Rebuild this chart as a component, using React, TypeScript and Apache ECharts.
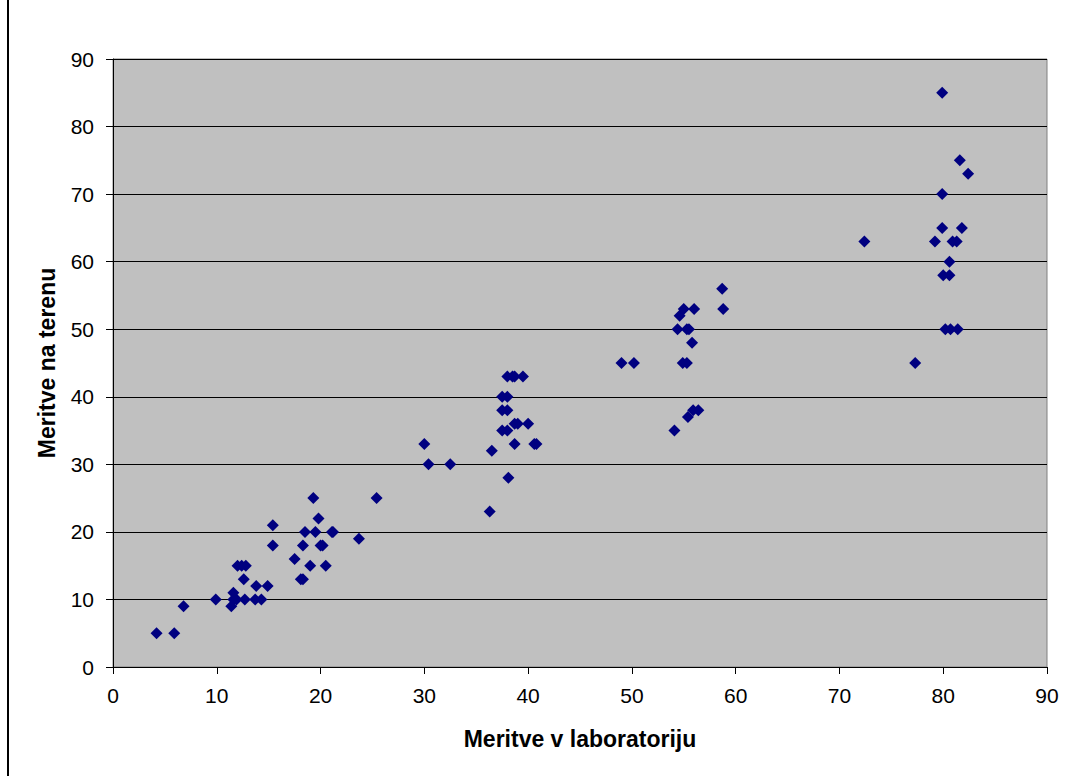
import React, { useEffect, useRef } from "react";
import * as echarts from "echarts";

const labValues = [
  4.2, 5.9, 6.8, 9.9, 11.4, 11.6, 11.6, 11.9, 12.7, 13.7, 14.3, 13.8, 14.9, 12.6, 12.0, 12.4, 12.8, 15.4, 15.4, 17.5,
  18.1, 18.3, 18.3, 18.5, 19.0, 19.3, 19.8, 19.5, 20.0, 20.2, 20.5, 21.1, 21.2, 23.7, 25.4,
  30.0, 30.4, 32.5, 36.3, 36.5, 37.5, 38.0, 38.1, 37.5, 38.0, 37.5, 38.0, 38.0, 38.5, 38.7, 39.5, 38.7, 38.7, 39.0, 40.0, 40.6, 40.8,
  49.0, 50.2, 54.1, 55.4, 55.9, 56.4, 54.9, 55.3, 55.8, 54.4, 55.3, 55.5, 54.6, 55.0, 56.0, 58.7, 58.8,
  72.4, 77.3, 79.2, 79.9, 79.9, 79.9, 80.0, 80.6, 80.6, 80.9, 81.3, 81.6, 81.8, 82.4, 80.2, 80.7, 81.4,
];
const fieldValues = [
  5, 5, 9, 10, 9, 11, 10, 10, 10, 10, 10, 12, 12, 13, 15, 15, 15, 18, 21, 16,
  13, 13, 18, 20, 15, 25, 22, 20, 18, 18, 15, 20, 20, 19, 25,
  33, 30, 30, 23, 32, 35, 35, 28, 38, 38, 40, 40, 43, 43, 43, 43, 33, 36, 36, 36, 33, 33,
  45, 45, 35, 37, 38, 38, 45, 45, 48, 50, 50, 50, 52, 53, 53, 56, 53,
  63, 45, 63, 85, 70, 65, 58, 58, 60, 63, 63, 75, 65, 73, 50, 50, 50,
];
const xTitle = "Meritve v laboratoriju";
const yTitle = "Meritve na terenu";

export default function App() {
  const ref = useRef<HTMLDivElement>(null);
  useEffect(() => {
    if (!ref.current) return;
    const chart = echarts.init(ref.current, null, { renderer: "svg" });
    const data = labValues.map((x, i) => [x, fieldValues[i]]);
    const font = "'Liberation Sans', Arial, sans-serif";
    chart.setOption({
      animation: false,
      backgroundColor: "#ffffff",
      grid: {
        left: 113,
        top: 59,
        right: 19,
        bottom: 111,
        show: true,
        backgroundColor: "#C0C0C0",
        borderColor: "#808080",
        borderWidth: 1,
      },
      xAxis: {
        type: "value",
        min: 0,
        max: 90,
        interval: 10,
        name: xTitle,
        nameLocation: "middle",
        nameGap: 60,
        nameTextStyle: { fontFamily: font, fontSize: 23, fontWeight: "bold", color: "#000" },
        axisLine: { show: true, lineStyle: { color: "#000", width: 1 } },
        axisTick: { show: true, length: 7, lineStyle: { color: "#000" } },
        axisLabel: { margin: 18, fontFamily: font, fontSize: 21, color: "#000" },
        splitLine: { show: false },
      },
      yAxis: {
        type: "value",
        min: 0,
        max: 90,
        interval: 10,
        name: yTitle,
        nameLocation: "middle",
        nameGap: 55,
        nameTextStyle: { fontFamily: font, fontSize: 23, fontWeight: "bold", color: "#000" },
        axisLine: { show: true, lineStyle: { color: "#000", width: 1 } },
        axisTick: { show: true, length: 7, lineStyle: { color: "#000" } },
        axisLabel: { margin: 19, fontFamily: font, fontSize: 21, color: "#000" },
        splitLine: { show: true, lineStyle: { color: "#000", width: 1 } },
      },
      series: [
        {
          type: "scatter",
          data,
          symbol: "diamond",
          symbolSize: 12,
          itemStyle: { color: "#000080", opacity: 1 },
        },
      ],
      graphic: [
        {
          type: "rect",
          shape: { x: 7, y: 0, width: 2, height: 776 },
          style: { fill: "#000" },
        },
      ],
    });
    return () => chart.dispose();
  }, []);
  return (
    <div
      ref={ref}
      style={{ position: "absolute", left: 0, top: 0, width: 1066, height: 778 }}
    />
  );
}
